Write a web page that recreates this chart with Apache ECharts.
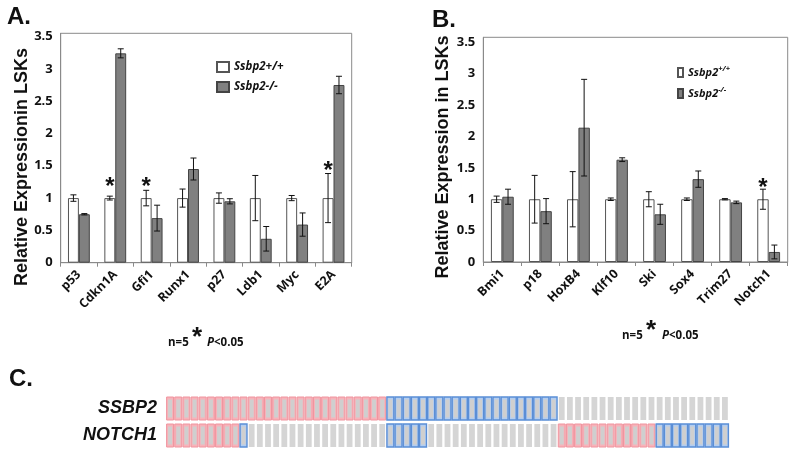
<!DOCTYPE html>
<html>
<head>
<meta charset="utf-8">
<script src="https://cdn.jsdelivr.net/npm/echarts@6/dist/echarts.min.js"></script>
<style>html,body{margin:0;padding:0;background:#fff}#c{width:795px;height:458px}</style>
</head>
<body>
<div id="c"></div>
<script>
// ---------- Panel A data ----------
const catA = ['p53','Cdkn1A','Gfi1','Runx1','p27','Ldb1','Myc','E2A'];
const wtA = [1,1,1,1,1,1,1,1];
const wtErrA = [0.05,0.03,0.12,0.14,0.08,0.35,0.04,0.38];
const koA = [0.75,3.24,0.69,1.45,0.95,0.37,0.59,2.75];
const koErrA = [0.01,0.07,0.2,0.17,0.04,0.19,0.18,0.135];
const starA = [null,1.24,1.24,null,null,null,null,1.49];
// ---------- Panel B data ----------
const catB = ['Bmi1','p18','HoxB4','Klf10','Ski','Sox4','Trim27','Notch1'];
const wtB = [1,1,1,1,1,1,1,1];
const wtErrB = [0.05,0.38,0.44,0.02,0.12,0.02,0.01,0.16];
const koB = [1.04,0.81,2.14,1.63,0.76,1.32,0.95,0.16];
const koErrB = [0.12,0.2,0.77,0.03,0.16,0.13,0.02,0.11];
const starB = [null,null,null,null,null,null,null,1.25];
const yTicks = [0,0.5,1,1.5,2,2.5,3,3.5];
// ---------- Panel C data (run lengths per gene) ----------
const genesC = ['SSBP2','NOTCH1'];
const ssbp2Runs = [['up',27],['down',21],['none',21]];
const notch1Runs = [['up',9],['down',1],['none',17],['down',5],['none',16],['up',12],['down',9]];

const seriesNames = ['Ssbp2+/+','Ssbp2-/-'];
const FONT = 'Open Sans';
const ARIAL = 'Liberation Sans';

function expand(runs){ const out=[]; runs.forEach(r=>{for(let i=0;i<r[1];i++) out.push(r[0]);}); return out; }
const rowsC = [expand(ssbp2Runs), expand(notch1Runs)];
const colsC = rowsC[0].map((_,i)=>String(i));
const codeMap = {none:0, up:1, down:2};
const cellData = [];
rowsC.forEach((row,r)=>row.forEach((t,c)=>cellData.push([c, r, codeMap[t]])));

function errRender(side){
  return function(params, api){
    const ci = api.value(0), v = api.value(1), e = api.value(2);
    const band = api.size([1,0])[0];
    const x = api.coord([ci, v])[0] + side*band*0.15;
    const yT = api.coord([ci, v+e])[1];
    const yB = api.coord([ci, Math.max(v-e,0)])[1];
    const cw = 3;
    const st = {stroke:'#111', lineWidth:1};
    return {type:'group', children:[
      {type:'line', shape:{x1:x,y1:yT,x2:x,y2:yB}, style:st},
      {type:'line', shape:{x1:x-cw,y1:yT,x2:x+cw,y2:yT}, style:st},
      {type:'line', shape:{x1:x-cw,y1:yB,x2:x+cw,y2:yB}, style:st}
    ]};
  };
}
function starRender(params, api){
  const ci = api.value(0), v = api.value(1);
  const band = api.size([1,0])[0];
  const p = api.coord([ci, v]);
  return {type:'text', x:p[0]-band*0.15, y:p[1]+5,
    style:{text:'*', fontSize:24, fontWeight:'bold', fontFamily:ARIAL, fill:'#111',
      align:'center', verticalAlign:'middle', textAlign:'center', textVerticalAlign:'middle'}};
}
function cellRender(params, api){
  const c = api.value(0), r = api.value(1), t = api.value(2);
  const p = api.coord([c, r]);
  const pitch = api.size([1,1])[0];
  const h = 23;
  if (t === 0) {
    return {type:'rect', shape:{x:p[0]-2.9, y:p[1]-h/2, width:5.8, height:h}, style:{fill:'#d5d5d5'}};
  }
  const fill = t === 1 ? '#f7b3ba' : '#b3cdf0';
  const stroke = t === 1 ? '#f0949e' : '#5a8ed6';
  return {type:'group', children:[
    {type:'rect', shape:{x:p[0]-pitch/2+0.6, y:p[1]-h/2, width:pitch-1.2, height:h}, style:{fill:fill, stroke:stroke, lineWidth: t===1?1:1.4}},
    {type:'rect', shape:{x:p[0]-2, y:p[1]-h/2+2.5, width:4, height:h-5}, style:{fill:'#cfcfcf'}}
  ]};
}
function toErr(vals, errs){ return vals.map((v,i)=>[i,v,errs[i]]); }
function toStars(arr){ const o=[]; arr.forEach((v,i)=>{ if(v!=null) o.push([i,v]); }); return o; }

const axisGrey = '#8a8a8a';
function xCat(gridIndex, data){
  return {type:'category', gridIndex, data, boundaryGap:true,
    axisLine:{lineStyle:{color:axisGrey}},
    axisTick:{show:true, alignWithLabel:false, length:4, lineStyle:{color:axisGrey}, interval:0},
    axisLabel:{rotate:45, interval:0, margin:10, color:'#111', fontWeight:'bold', fontSize:12.5, fontFamily:FONT}};
}
function yVal(gridIndex, max){
  return {type:'value', gridIndex, min:0, max, interval:0.5,
    axisLine:{show:true, lineStyle:{color:axisGrey}}, axisTick:{show:false}, splitLine:{show:false},
    axisLabel:{showMaxLabel:false, margin:8, color:'#111', fontWeight:'bold', fontSize:13, fontFamily:FONT,
      formatter: v => (yTicks.indexOf(v) >= 0 ? String(v) : '')}};
}
const wtStyle = {color:'#ffffff', borderColor:'#555', borderWidth:1};
const koStyle = {color:'#808080', borderColor:'#444', borderWidth:1};

const chart = echarts.init(document.getElementById('c'), null, {renderer:'canvas'});
const txt = (text, x, y, size, extra) => Object.assign({type:'text', x, y,
  style:Object.assign({text, fontSize:size, fontWeight:'bold', fontFamily:ARIAL, fill:'#111',
    align:'left', verticalAlign:'middle', textAlign:'left', textVerticalAlign:'middle'}, extra && extra.style || {})},
  extra && extra.el || {});

chart.setOption({
  animation:false,
  backgroundColor:'#fff',
  grid:[
    {left:60.7, top:33.3, width:291, height:229.4, show:true, borderColor:axisGrey, borderWidth:1},
    {left:483.3, top:37.3, width:304.4, height:224.7, show:true, borderColor:axisGrey, borderWidth:1},
    {left:166, top:395, width:563, height:54, show:false}
  ],
  xAxis:[ xCat(0, catA), xCat(1, catB),
    {type:'category', gridIndex:2, data:colsC, show:false} ],
  yAxis:[ yVal(0, 3.55), yVal(1, 3.58),
    {type:'category', gridIndex:2, data:genesC, inverse:true,
     axisLine:{show:false}, axisTick:{show:false},
     axisLabel:{margin:9, color:'#111', fontWeight:'bold', fontStyle:'italic', fontSize:18, fontFamily:ARIAL}} ],
  legend:[
    {left:211, top:56, orient:'vertical', itemWidth:12, itemHeight:10, itemGap:8, icon:'rect',
     data:seriesNames, selectedMode:false,
     textStyle:{fontSize:11.5, fontWeight:'bold', fontStyle:'italic', fontFamily:FONT, color:'#111'}},
    {left:672, top:60, orient:'vertical', itemWidth:5, itemHeight:9, itemGap:8, icon:'rect',
     data:seriesNames, selectedMode:false,
     formatter: n => n === seriesNames[0] ? '{a|Ssbp2}{s|+/+}' : '{a|Ssbp2}{s|-/-}',
     textStyle:{fontSize:11, fontWeight:'bold', fontStyle:'italic', fontFamily:FONT, color:'#111',
       rich:{a:{fontSize:11, fontWeight:'bold', fontStyle:'italic', fontFamily:FONT, color:'#111'},
             s:{fontSize:7.5, fontWeight:'bold', fontStyle:'italic', fontFamily:FONT, color:'#111', padding:[0,0,7,0]}}}}
  ],
  graphic:[
    txt('A.', 7, 17, 24),
    txt('B.', 432, 20, 24),
    txt('C.', 9, 379, 24),
    txt('Relative Expressionin LSKs', 22, 167, 18, {el:{rotation:Math.PI/2}, style:{align:'center', textAlign:'center'}}),
    txt('Relative Expression in LSKs', 443, 157, 18, {el:{rotation:Math.PI/2}, style:{align:'center', textAlign:'center'}}),
    txt('n=5', 168, 343, 11.5, {style:{fontFamily:FONT}}),
    txt('*', 192, 338, 26),
    txt('P', 207, 343, 11.5, {style:{fontFamily:FONT, fontStyle:'italic'}}),
    txt('<0.05', 214, 343, 11.5, {style:{fontFamily:FONT}}),
    txt('n=5', 622, 336, 11.5, {style:{fontFamily:FONT}}),
    txt('*', 646, 331, 26),
    txt('P', 662, 336, 11.5, {style:{fontFamily:FONT, fontStyle:'italic'}}),
    txt('<0.05', 669, 336, 11.5, {style:{fontFamily:FONT}})
  ],
  series:[
    {name:seriesNames[0], type:'bar', xAxisIndex:0, yAxisIndex:0, data:wtA, barWidth:'30%', barGap:'0%', itemStyle:wtStyle},
    {name:seriesNames[1], type:'bar', xAxisIndex:0, yAxisIndex:0, data:koA, barWidth:'30%', barGap:'0%', itemStyle:koStyle},
    {name:'errA1', type:'custom', xAxisIndex:0, yAxisIndex:0, renderItem:errRender(-1), data:toErr(wtA, wtErrA), z:5},
    {name:'errA2', type:'custom', xAxisIndex:0, yAxisIndex:0, renderItem:errRender(1), data:toErr(koA, koErrA), z:5},
    {name:'starA', type:'custom', xAxisIndex:0, yAxisIndex:0, renderItem:starRender, data:toStars(starA), z:6},
    {name:seriesNames[0], type:'bar', xAxisIndex:1, yAxisIndex:1, data:wtB, barWidth:'30%', barGap:'0%', itemStyle:wtStyle},
    {name:seriesNames[1], type:'bar', xAxisIndex:1, yAxisIndex:1, data:koB, barWidth:'30%', barGap:'0%', itemStyle:koStyle},
    {name:'errB1', type:'custom', xAxisIndex:1, yAxisIndex:1, renderItem:errRender(-1), data:toErr(wtB, wtErrB), z:5},
    {name:'errB2', type:'custom', xAxisIndex:1, yAxisIndex:1, renderItem:errRender(1), data:toErr(koB, koErrB), z:5},
    {name:'starB', type:'custom', xAxisIndex:1, yAxisIndex:1, renderItem:starRender, data:toStars(starB), z:6},
    {name:'cells', type:'custom', xAxisIndex:2, yAxisIndex:2, renderItem:cellRender, data:cellData}
  ]
});
</script>
</body>
</html>
